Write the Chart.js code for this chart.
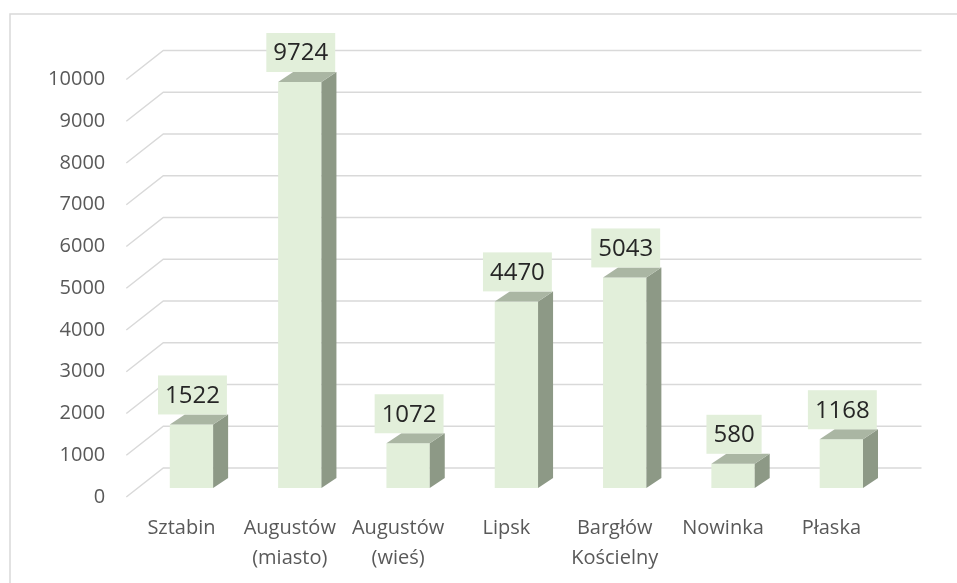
<!DOCTYPE html>
<html>
<head>
<meta charset="utf-8">
<script src="https://cdn.jsdelivr.net/npm/chart.js@4.4.1/dist/chart.umd.min.js"></script>
<style>
  html, body { margin: 0; padding: 0; background: #fff; }
  canvas { display: block; }
</style>
</head>
<body>
<canvas id="chart" width="957" height="583"></canvas>
<script>
const categories = [
  ['Sztabin'],
  ['Augustów', '(miasto)'],
  ['Augustów', '(wieś)'],
  ['Lipsk'],
  ['Bargłów', 'Kościelny'],
  ['Nowinka'],
  ['Płaska']
];
const values = [1522, 9724, 1072, 4470, 5043, 580, 1168];
const yMin = 0;
const yMax = 10000;
const yStep = 1000;

const frontColor = '#E2EFDA';
const sideColor = '#8D9986';
const topColor = '#AAB6A3';
const gridColor = '#D9D9D9';
const fontFamily = '"Open Sans", "Noto Sans", sans-serif';

// fake 3d: depth of the bars and the floor
const depthX = 15, depthY = -10;

const pseudo3d = {
  id: 'pseudo3d',
  beforeDraw(chart) {
    const ctx = chart.ctx;
    ctx.save();
    ctx.strokeStyle = gridColor;
    ctx.lineWidth = 1.5;
    ctx.beginPath();
    ctx.moveTo(10, 583);
    ctx.lineTo(10, 14);
    ctx.lineTo(957, 14);
    ctx.stroke();
    ctx.restore();
  },
  beforeDatasetsDraw(chart) {
    const ctx = chart.ctx;
    const y = chart.scales.y;
    const area = chart.chartArea;
    ctx.save();
    ctx.strokeStyle = gridColor;
    ctx.lineWidth = 1.5;
    y.ticks.forEach(t => {
      const yb = y.getPixelForValue(t.value);
      ctx.beginPath();
      ctx.moveTo(area.left - 11, yb + 9);
      ctx.lineTo(area.left + 26, yb - 20);
      ctx.lineTo(area.right + 26, yb - 20);
      ctx.stroke();
    });
    ctx.restore();
  },
  afterDatasetsDraw(chart) {
    const ctx = chart.ctx;
    const meta = chart.getDatasetMeta(0);
    ctx.save();
    meta.data.forEach((bar, i) => {
      const p = bar.getProps(['x', 'y', 'base', 'width'], true);
      const l = p.x - p.width / 2, r = p.x + p.width / 2;
      // side
      ctx.fillStyle = sideColor;
      ctx.beginPath();
      ctx.moveTo(r, p.y);
      ctx.lineTo(r + depthX, p.y + depthY);
      ctx.lineTo(r + depthX, p.base + depthY);
      ctx.lineTo(r, p.base);
      ctx.closePath();
      ctx.fill();
      // top
      ctx.fillStyle = topColor;
      ctx.beginPath();
      ctx.moveTo(l, p.y);
      ctx.lineTo(l + depthX, p.y + depthY);
      ctx.lineTo(r + depthX, p.y + depthY);
      ctx.lineTo(r, p.y);
      ctx.closePath();
      ctx.fill();
    });
    // value labels
    ctx.font = '24px ' + fontFamily;
    ctx.textAlign = 'center';
    ctx.textBaseline = 'middle';
    meta.data.forEach((bar, i) => {
      const p = bar.getProps(['x', 'y'], true);
      const txt = String(values[i]);
      const w = ctx.measureText(txt).width + 14;
      const h = 39;
      const cx = p.x + 1;
      const bottom = p.y + depthY;
      ctx.fillStyle = frontColor;
      ctx.fillRect(cx - w / 2, bottom - h, w, h);
      ctx.fillStyle = '#262626';
      ctx.fillText(txt, cx, bottom - h / 2 + 1);
    });
    ctx.restore();
  }
};

new Chart(document.getElementById('chart'), {
  type: 'bar',
  data: {
    labels: categories,
    datasets: [{
      data: values,
      backgroundColor: frontColor,
      borderWidth: 0,
      barPercentage: 0.4,
      categoryPercentage: 1
    }]
  },
  options: {
    responsive: false,
    animation: false,
    layout: { padding: { left: 0, right: 61.5, top: 70.5, bottom: 0 } },
    plugins: {
      legend: { display: false },
      tooltip: { enabled: false }
    },
    scales: {
      x: {
        grid: { display: false, drawTicks: false },
        border: { display: false },
        ticks: {
          color: '#595959',
          font: { family: fontFamily, size: 20, lineHeight: 1.5 },
          padding: 25,
          labelOffset: -10,
          maxRotation: 0,
          autoSkip: false
        },
        afterFit(scale) { scale.height = 95; }
      },
      y: {
        min: yMin,
        max: yMax,
        grid: { display: false, drawTicks: false },
        border: { display: false },
        ticks: {
          stepSize: yStep,
          color: '#595959',
          font: { family: fontFamily, size: 20 },
          padding: 32,
          labelOffset: 9,
          callback: v => String(v)
        },
        afterFit(scale) { scale.width = 137.3; }
      }
    }
  },
  plugins: [pseudo3d]
});
</script>
</body>
</html>
